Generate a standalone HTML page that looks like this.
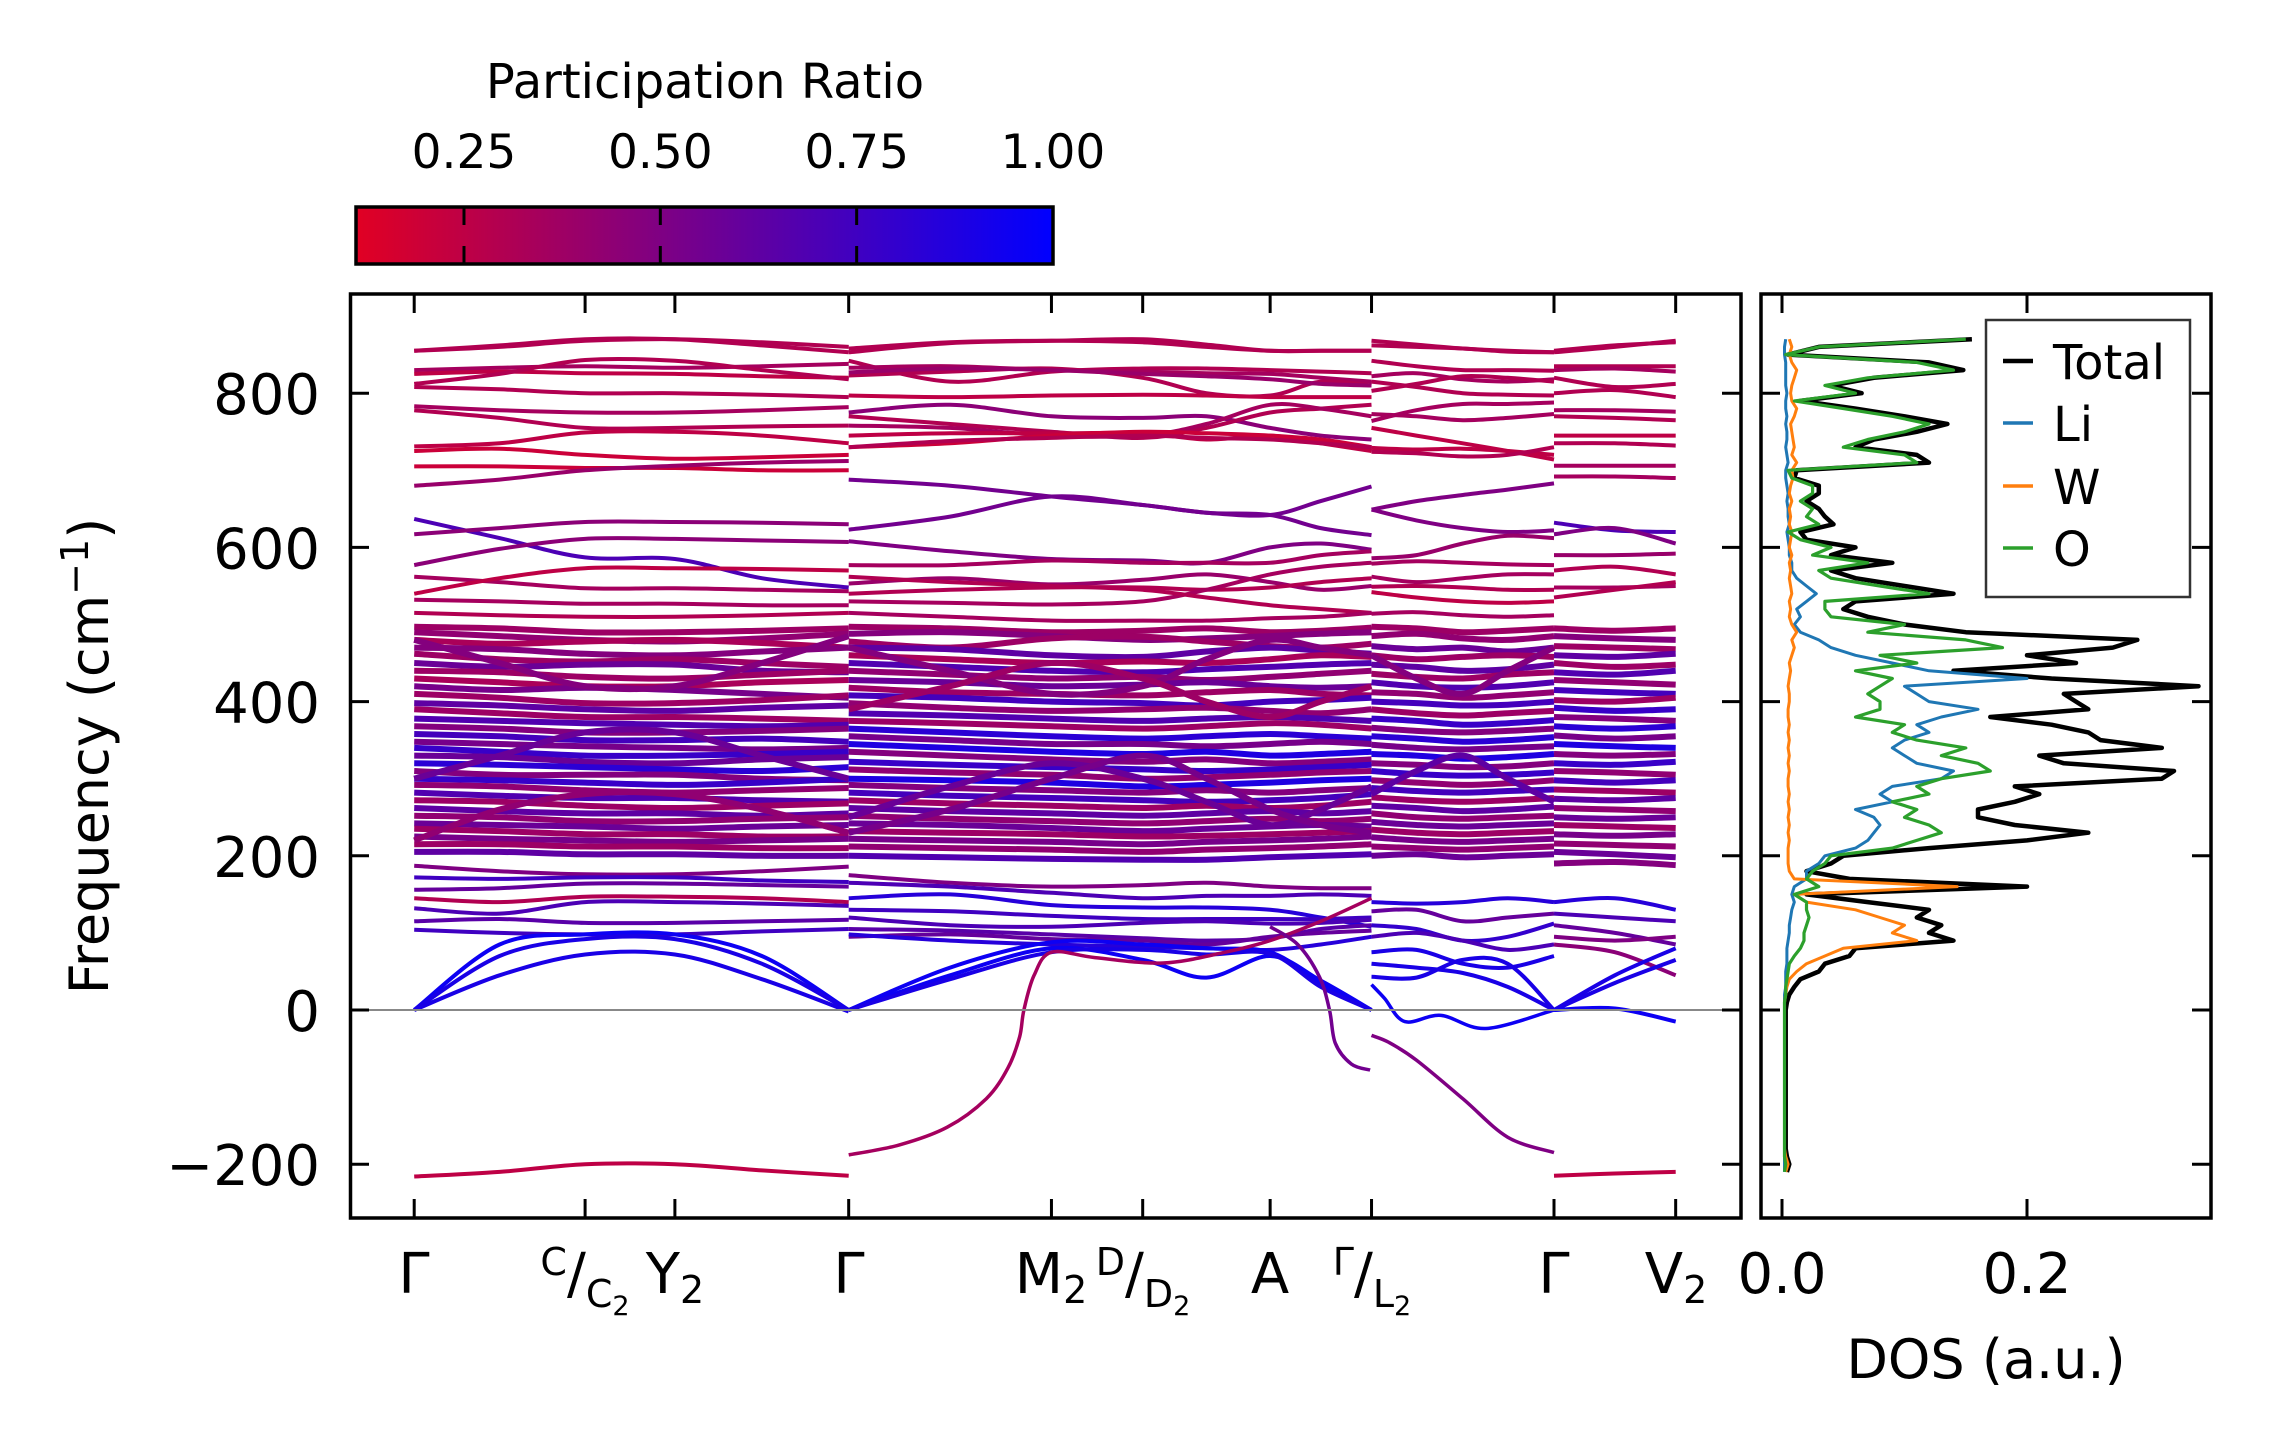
<!DOCTYPE html>
<html><head><meta charset="utf-8"><title>Phonon band structure and DOS</title>
<style>
html,body{margin:0;padding:0;background:#fff;}
svg{display:block;font-family:"DejaVu Sans","Liberation Sans",sans-serif;}
</style></head>
<body>
<svg id="fig" width="2271" height="1455" viewBox="0 0 2271 1455" xmlns="http://www.w3.org/2000/svg">
<defs>
<linearGradient id="cmap" x1="0" x2="1" y1="0" y2="0">
<stop offset="0" stop-color="rgb(225,0,35)"/><stop offset="1" stop-color="rgb(0,0,255)"/>
</linearGradient>
<clipPath id="mainClip"><rect x="352" y="296" width="1387" height="920"/></clipPath>
<clipPath id="dosClip"><rect x="1763" y="296" width="1447" height="920"/></clipPath>
</defs>
<rect x="0" y="0" width="2271" height="1455" fill="#fff"/>

<g>
<text x="705" y="98" font-size="48" text-anchor="middle">Participation Ratio</text>
<rect x="356" y="207" width="697" height="57" fill="url(#cmap)" stroke="#000" stroke-width="3.5"/>
<g id="cbTicks"></g>
</g>

<g id="bands" clip-path="url(#mainClip)"></g>
<line x1="352" x2="1739" y1="1010" y2="1010" stroke="#888" stroke-width="2"/>
<rect x="350.5" y="294" width="1390.5" height="924" fill="none" stroke="#000" stroke-width="3.5"/>
<g id="mainTicks"></g>

<g id="dos" clip-path="url(#dosClip)"></g>
<rect x="1761" y="294" width="450" height="924" fill="none" stroke="#000" stroke-width="3.5"/>
<g id="dosTicks"></g>

<g font-size="56" text-anchor="middle">
<text x="414" y="1293">Γ</text>
<text x="585" y="1293"><tspan font-size="38" dy="-18">C</tspan><tspan dy="18">/</tspan><tspan font-size="38" dy="14">C</tspan><tspan font-size="27" dy="8">2</tspan></text>
<text x="675" y="1293">Y<tspan font-size="38" dy="10">2</tspan></text>
<text x="849" y="1293">Γ</text>
<text x="1051" y="1293">M<tspan font-size="38" dy="10">2</tspan></text>
<text x="1143" y="1293"><tspan font-size="38" dy="-18">D</tspan><tspan dy="18">/</tspan><tspan font-size="38" dy="14">D</tspan><tspan font-size="27" dy="8">2</tspan></text>
<text x="1270" y="1293">A</text>
<text x="1372" y="1293"><tspan font-size="38" dy="-18">Γ</tspan><tspan dy="18">/</tspan><tspan font-size="38" dy="14">L</tspan><tspan font-size="27" dy="8">2</tspan></text>
<text x="1554" y="1293">Γ</text>
<text x="1676" y="1293">V<tspan font-size="38" dy="10">2</tspan></text>
</g>
<text transform="translate(108,756) rotate(-90)" font-size="54" text-anchor="middle">Frequency (cm<tspan font-size="38" dy="-20">−1</tspan><tspan dy="20">)</tspan></text>
<text x="1986" y="1378" font-size="54" text-anchor="middle">DOS (a.u.)</text>

<g>
<rect x="1986" y="320" width="204" height="277" fill="#fff" fill-opacity="0.85" stroke="#333" stroke-width="2.5"/>
<line x1="2003" x2="2033" y1="361" y2="361" stroke="#000" stroke-width="4.5"/>
<text x="2053" y="379" font-size="48">Total</text>
<line x1="2003" x2="2033" y1="423" y2="423" stroke="#1f77b4" stroke-width="3.5"/>
<text x="2053" y="441" font-size="48">Li</text>
<line x1="2003" x2="2033" y1="486" y2="486" stroke="#ff7f0e" stroke-width="3.5"/>
<text x="2053" y="504" font-size="48">W</text>
<line x1="2003" x2="2033" y1="548" y2="548" stroke="#2ca02c" stroke-width="3.5"/>
<text x="2053" y="566" font-size="48">O</text>
</g>
</svg>

<script>
const yTicks = [-200, 0, 200, 400, 600, 800];
const yTickLabels = ["−200", "0", "200", "400", "600", "800"];
const kTicks = [0, 118, 180, 300, 440, 503, 591, 661, 787, 871];
const cbTicks = [0.25, 0.5, 0.75, 1.0];
const cbTickLabels = ["0.25", "0.50", "0.75", "1.00"];
const dosTicks = [0.0, 0.2];
const dosTickLabels = ["0.0", "0.2"];

const segAKnots = [0, 59, 118, 180, 240, 300];
const segABands = [
[.3,855,862,870,870,862,853],[.3,855,860,868,870,866,860],[.35,830,833,835,833,835,838],[.25,825,828,826,825,822,820],
[.3,812,825,843,842,830,818],[.3,808,805,800,800,798,795],[.35,783,778,775,775,778,782],[.3,778,768,755,755,757,758],
[.25,731,735,749,750,745,735],[.2,725,728,720,715,717,720],[.2,705,705,703,703,700,700],[.4,680,688,700,706,710,712],
[.7,637,612,587,585,560,548],[.45,617,625,633,633,632,630],[.45,577,598,611,611,609,607],[.35,562,555,547,547,545,543],
[.25,540,560,573,573,572,570],[.35,532,530,527,527,525,525],[.3,515,512,510,510,512,515],
[.5,187,180,176,176,180,186],[.75,172,170,172,172,168,166],[.6,156,158,164,164,162,160],[.3,145,140,147,147,145,140],
[.7,132,125,140,140,138,135],[.65,115,118,113,113,115,117],[.75,104,100,98,98,102,105],
[.95,0,85,98,98,70,0],[.9,0,70,92,92,60,0],[.9,0,45,72,72,40,-2],
[.25,-216,-210,-200,-200,-208,-215]
];
const segADense = [
[.3,497,495,490,490,492,495],[.35,490,485,480,478,482,488],[.25,480,475,478,480,476,470],[.4,470,468,462,460,465,470],
[.3,462,455,452,455,450,445],[.5,450,445,448,448,440,438],[.3,440,438,432,430,435,440],[.25,430,425,420,420,425,428],
[.45,420,415,418,415,410,405],[.3,410,405,398,398,402,408],[.55,398,395,390,388,392,395],[.3,390,385,380,380,378,375],
[.6,378,375,372,370,368,370],[.4,368,365,360,360,362,365],[.65,358,355,350,350,352,348],[.45,348,345,342,340,338,340],
[.7,340,335,330,330,332,335],[.5,330,328,322,320,325,328],[.75,320,318,315,312,310,315],[.4,310,305,305,305,300,298],
[.7,300,298,295,292,295,300],[.35,292,290,285,282,285,288],[.6,282,278,275,275,272,270],[.3,272,270,265,262,265,268],
[.55,262,258,255,255,252,255],[.35,252,250,245,245,248,250],[.5,242,240,238,235,238,240],[.3,235,232,228,228,225,225],
[.45,225,222,220,218,220,222],[.3,215,215,212,212,210,210],[.55,205,205,202,202,200,200],
[.4,480,450,420,420,450,485],[.5,300,330,360,360,330,300],[.35,220,260,280,280,260,230]
];
const segBKnots = [300, 370, 440, 503, 547, 591, 626, 661];
const segBBands = [
[.3,853,865,868,870,863,855,855,855],[.3,858,866,868,866,860,855,855,855],[.3,842,815,828,832,832,830,828,826],
[.35,833,835,830,828,826,825,820,815],[.3,823,828,832,820,800,797,815,810],[.4,827,832,830,825,822,818,812,810],
[.25,797,795,797,798,797,795,795,795],[.45,775,785,770,768,770,755,745,740],[.3,770,760,750,742,755,775,780,785],
[.35,758,755,745,745,760,785,780,770],[.25,745,748,748,748,740,745,735,725],[.2,730,735,745,750,748,745,740,730],
[.3,730,738,742,745,742,740,735,730],[.55,688,680,666,655,645,642,660,679],[.55,623,640,666,655,645,642,625,616],
[.5,608,595,585,583,580,600,605,597],[.35,577,577,583,580,580,580,590,595],[.4,553,560,552,558,565,555,545,550],
[.3,540,545,548,548,545,548,555,560],[.35,530,528,526,530,545,565,575,580],[.3,562,555,550,545,535,525,520,515],
[.35,515,510,505,505,505,508,510,515],
[.5,175,165,160,162,165,160,158,158],[.7,165,160,152,145,148,148,150,148],[.85,145,150,136,133,133,130,120,108],
[.75,130,128,122,118,118,118,118,120],[.7,120,110,108,113,115,112,113,117],[.65,105,103,98,93,90,93,105,110],
[.6,95,98,92,90,85,95,100,103],[.85,98,90,85,82,80,78,85,95],
[.95,0,55,88,85,80,75,35,0],[.95,0,45,80,65,42,70,38,0],[.9,0,40,75,78,72,73,30,0]
];
const segBDense = [
[.3,497,495,490,492,495,490,492,496],[.4,488,490,485,480,482,485,488,490],[.3,478,470,482,484,478,472,470,475],
[.55,470,468,460,458,465,470,466,462],[.25,460,455,450,452,450,455,460,458],[.6,450,445,440,438,442,445,448,450],
[.35,440,435,430,432,428,432,436,440],[.5,428,425,420,422,425,420,418,420],[.3,418,412,410,408,412,415,410,408],
[.65,408,405,400,398,395,400,402,405],[.35,398,392,388,390,392,388,385,390],[.6,385,382,378,375,378,380,378,375],
[.3,375,372,368,365,368,372,370,365],[.75,365,360,355,352,355,358,355,352],[.45,355,350,345,345,342,345,348,345],
[.8,345,340,335,332,335,330,332,335],[.4,335,330,325,322,325,320,322,325],[.7,322,318,315,312,310,312,315,318],
[.35,312,308,305,300,302,305,308,310],[.8,300,298,295,290,292,295,298,300],[.4,292,288,285,282,285,282,285,288],
[.65,282,278,275,272,270,272,275,280],[.3,272,268,265,262,265,262,265,270],[.55,262,258,255,252,255,258,255,258],
[.35,252,248,245,242,245,248,245,248],[.5,242,240,236,232,235,238,240,238],[.3,232,230,228,225,226,228,230,232],
[.45,222,220,218,215,218,220,222,225],[.35,212,210,208,205,208,210,212,215],[.6,200,198,196,195,195,198,200,202],
[.4,470,440,410,420,455,480,470,460],[.5,250,290,320,300,270,240,260,290],[.45,230,260,300,330,300,260,240,230],
[.3,390,420,450,430,400,380,400,420]
];
const segCKnots = [661, 692, 724, 755, 787];
const segCBands = [
[.3,868,863,858,855,853],[.3,862,860,858,854,853],[.3,842,835,830,830,829],[.35,822,826,818,815,818],
[.3,803,812,822,820,815],[.3,815,808,800,798,797],[.35,764,778,786,786,788],[.35,773,770,765,768,773],
[.25,755,745,735,725,714],[.25,729,727,728,725,720],[.3,724,722,718,720,730],
[.5,649,660,668,675,683],[.5,649,635,625,620,622],[.4,586,590,605,615,612],[.35,579,582,580,578,577],
[.35,562,555,560,565,565],[.3,549,550,548,545,545],[.25,542,535,530,528,530],[.35,514,516,512,510,512],
[.85,140,138,140,145,140],[.6,128,130,115,120,125],[.8,110,105,90,95,112],[.7,95,100,90,78,85],
[.9,75,78,60,55,70],[.9,60,55,48,30,0],[.9,43,42,65,60,0]
];
const segCDense = [
[.3,497,495,490,492,495],[.35,485,488,482,480,485],[.5,472,468,470,465,470],[.3,460,455,458,460,458],
[.55,448,445,440,442,448],[.3,436,432,430,435,438],[.6,425,420,418,420,425],[.35,412,410,405,408,412],
[.65,400,398,395,396,400],[.3,390,385,382,385,388],[.7,378,375,370,372,376],[.4,366,362,360,362,365],
[.75,355,352,348,350,354],[.45,344,340,338,340,342],[.8,332,330,326,328,332],[.4,320,318,315,316,320],
[.7,310,306,304,305,308],[.35,298,295,292,294,298],[.65,288,284,282,284,286],[.3,276,272,270,272,275],
[.55,265,262,258,260,264],[.35,255,250,248,250,252],[.5,244,240,238,240,242],[.3,234,230,228,230,232],
[.45,224,220,218,220,222],[.35,212,210,208,210,212],[.5,200,202,198,200,202],[.4,460,430,410,440,470],
[.55,280,310,330,300,270]
];
const segDKnots = [787, 829, 871];
const segDBands = [
[.3,853,860,868],[.3,855,862,866],[.3,835,835,835],[.35,830,832,828],[.3,820,808,812],[.3,800,804,795],
[.35,778,778,776],[.3,770,768,765],[.25,745,745,745],[.3,735,735,732],[.35,706,706,706],[.35,692,692,690],
[.7,632,622,620],[.5,617,625,605],[.4,590,590,592],[.3,570,575,565],[.35,548,548,550],[.3,535,545,555],
[.85,140,145,130],[.7,125,120,115],[.6,110,100,85],[.5,95,90,95],[.45,85,75,45],
[.9,0,45,80],[.9,0,35,65],[.95,0,2,-15],
[.25,-215,-212,-210]
];
const segDDense = [
[.3,495,492,495],[.4,485,482,480],[.3,472,470,468],[.55,460,458,462],[.3,450,445,448],[.6,438,435,440],
[.35,428,425,422],[.65,415,412,410],[.3,402,400,405],[.7,392,388,390],[.4,380,378,375],[.75,368,365,368],
[.45,356,352,355],[.8,345,342,340],[.4,332,330,332],[.7,320,318,322],[.35,310,308,305],[.65,298,295,298],
[.3,286,284,282],[.55,274,272,275],[.35,262,260,258],[.5,250,248,250],[.3,240,238,236],[.45,228,226,228],
[.35,216,214,212],[.5,205,202,198],[.4,190,192,188]
];
const specialK = [
[300,335,368,395,410,418,421,428,440,470,517,560,591,626,661],
[591,610,625,632,636,647,660],
[661,673,692,724,755,787],
[661,670,684,709,740,787]
];
const specialF = [
[-188,-175,-152,-115,-75,-35,0,45,75,68,61,75,90,115,145],
[108,85,43,0,-43,-70,-78],
[-33,-42,-65,-115,-165,-185],
[33,15,-15,-7,-24,0]
];
const specialPR = [0.35, 0.55, 0.5, 0.95];

const dosFreq = [];
for (let f = -210; f <= 870; f += 10) dosFreq.push(f);
const dosTotal = [.004,.006,.004,.003,.003,.003,.003,.003,.003,.003,.003,.003,.003,.003,.003,.003,.003,.003,.003,.003,.003,
.003,.004,.006,.01,.015,.03,.035,.055,.06,.14,.12,.13,.11,.12,.07,.02,.2,.055,.02,.04,.05,.12,.2,.25,.19,.16,.16,.19,.21,.19,
.31,.32,.23,.21,.31,.26,.25,.22,.17,.25,.24,.23,.34,.22,.14,.24,.20,.27,.29,.15,.10,.07,.05,.06,.14,.1,.06,.04,.09,.04,
.06,.02,.015,.042,.035,.03,.02,.03,.03,.01,.012,.12,.11,.06,.075,.11,.135,.10,.06,.015,.065,.04,.075,.148,.12,.005,.03,.155];
const dosO = [.002,.003,.002,.002,.002,.002,.002,.002,.002,.002,.002,.002,.002,.002,.002,.002,.002,.002,.002,.002,.002,
.002,.002,.003,.003,.004,.005,.006,.01,.015,.018,.018,.02,.022,.02,.02,.01,.03,.02,.025,.035,.04,.09,.11,.13,.12,.10,.11,.09,.12,.11,
.13,.17,.16,.13,.15,.11,.09,.10,.06,.08,.08,.07,.08,.09,.06,.11,.08,.18,.15,.07,.10,.04,.035,.035,.12,.08,.04,.03,.07,.025,
.04,.015,.005,.03,.02,.025,.015,.025,.025,.008,.005,.11,.10,.05,.07,.10,.12,.09,.05,.01,.06,.035,.07,.14,.11,.003,.03,.15];
const dosLi = [.002,.002,.002,.002,.002,.002,.002,.002,.002,.002,.002,.002,.002,.002,.002,.002,.002,.002,.002,.002,.002,
.002,.002,.002,.003,.003,.003,.004,.004,.004,.005,.006,.006,.007,.008,.01,.008,.01,.02,.02,.03,.035,.06,.07,.075,.08,.075,.06,.09,.08,.09,
.13,.14,.11,.1,.09,.1,.12,.11,.13,.16,.12,.11,.1,.2,.12,.09,.06,.04,.03,.015,.01,.015,.012,.02,.028,.02,.012,.008,.008,.006,
.006,.005,.004,.006,.005,.005,.004,.005,.004,.003,.003,.005,.004,.003,.004,.004,.003,.004,.003,.003,.004,.003,.003,.003,.003,.002,.002,.003];
const dosW = [.003,.005,.003,.002,.002,.002,.002,.002,.002,.002,.002,.002,.002,.002,.002,.002,.002,.002,.002,.002,.002,
.002,.002,.003,.004,.006,.012,.02,.035,.05,.11,.09,.10,.08,.06,.02,.01,.143,.01,.006,.005,.005,.005,.006,.005,.006,.005,.006,.005,.006,.005,
.005,.006,.005,.006,.005,.006,.005,.006,.005,.005,.006,.006,.005,.006,.007,.006,.008,.01,.008,.012,.008,.006,.007,.006,.008,.007,.006,.007,.006,.008,
.006,.007,.008,.006,.007,.006,.008,.006,.007,.009,.008,.012,.008,.01,.009,.008,.007,.01,.012,.008,.007,.008,.01,.012,.008,.006,.008,.006];

const NS = "http://www.w3.org/2000/svg";
function xK(k) { return 414.2 + k * 1.4483; }
function yF(f) { return 1010 - f * 0.771; }
function xD(v) { return 1782 + v * 1225; }
function xCB(p) { return 356 + (p - 0.1125) / (1 - 0.1125) * 697; }
function prColor(p) {
  let t = (p - 0.1125) / (1 - 0.1125); t = Math.max(0, Math.min(1, t));
  return "rgb(" + Math.round(225 * (1 - t)) + ",0," + Math.round(35 + 220 * t) + ")";
}
function smoothPath(pts) {
  let d = "M" + pts[0][0].toFixed(1) + "," + pts[0][1].toFixed(1);
  for (let i = 0; i < pts.length - 1; i++) {
    const p0 = pts[i - 1] || pts[i], p1 = pts[i], p2 = pts[i + 1], p3 = pts[i + 2] || p2;
    const c1x = p1[0] + (p2[0] - p0[0]) / 6, c1y = p1[1] + (p2[1] - p0[1]) / 6;
    const c2x = p2[0] - (p3[0] - p1[0]) / 6, c2y = p2[1] - (p3[1] - p1[1]) / 6;
    d += "C" + c1x.toFixed(1) + "," + c1y.toFixed(1) + " " + c2x.toFixed(1) + "," + c2y.toFixed(1) + " " + p2[0].toFixed(1) + "," + p2[1].toFixed(1);
  }
  return d;
}
function linePath(pts) { return pts.map((p, i) => (i ? "L" : "M") + p[0].toFixed(1) + "," + p[1].toFixed(1)).join(""); }
function mk(tag, attrs, parent) {
  const el = document.createElementNS(NS, tag);
  for (const a in attrs) el.setAttribute(a, attrs[a]);
  parent.appendChild(el); return el;
}

const bandsG = document.getElementById("bands");
function drawSet(knots, set, width, nameBase, colorShift) {
  set.forEach((b, i) => {
    const pts = knots.map((k, j) => [xK(k), yF(b[j + 1])]);
    const p = mk("path", { d: smoothPath(pts), fill: "none", stroke: prColor(b[0] + colorShift), "stroke-width": width }, bandsG);
    
    
  });
}
drawSet(segAKnots, segADense, 6, "band-seg-a-dense", 0.08);
drawSet(segBKnots, segBDense, 6, "band-seg-b-dense", 0.08);
drawSet(segCKnots, segCDense, 6, "band-seg-c-dense", 0.08);
drawSet(segDKnots, segDDense, 6, "band-seg-d-dense", 0.08);
drawSet(segAKnots, segABands, 4, "band-seg-a", 0);
drawSet(segBKnots, segBBands, 4, "band-seg-b", 0);
drawSet(segCKnots, segCBands, 4, "band-seg-c", 0);
drawSet(segDKnots, segDBands, 4, "band-seg-d", 0);
specialK.forEach((ks, i) => {
  const pts = ks.map((k, j) => [xK(k), yF(specialF[i][j])]);
  const p = mk("path", { d: smoothPath(pts), fill: "none", stroke: prColor(specialPR[i]), "stroke-width": 3.5 }, bandsG);
  
  
});

const mt = document.getElementById("mainTicks");
yTicks.forEach((f, i) => {
  const y = yF(f);
  let t = mk("line", { x1: 350.5, x2: 369, y1: y, y2: y, stroke: "#000", "stroke-width": 3 }, mt);
   
  t = mk("line", { x1: 1722, x2: 1741, y1: y, y2: y, stroke: "#000", "stroke-width": 3 }, mt);
   
  const lb = mk("text", { x: 320, y: y + 21, "font-size": 56, "text-anchor": "end" }, mt);
  lb.textContent = yTickLabels[i];
   
});
kTicks.forEach(k => {
  const x = xK(k);
  let t = mk("line", { x1: x, x2: x, y1: 1218, y2: 1199, stroke: "#000", "stroke-width": 3 }, mt);
   
  t = mk("line", { x1: x, x2: x, y1: 294, y2: 313, stroke: "#000", "stroke-width": 3 }, mt);
   
});

const cbg = document.getElementById("cbTicks");
cbTicks.forEach((p, i) => {
  const x = xCB(p);
  if (p < 1) {
    let t = mk("line", { x1: x, x2: x, y1: 207, y2: 225, stroke: "#000", "stroke-width": 3 }, cbg);
     
    t = mk("line", { x1: x, x2: x, y1: 246, y2: 264, stroke: "#000", "stroke-width": 3 }, cbg);
     
  }
  const lb = mk("text", { x: x, y: 168, "font-size": 47, "text-anchor": "middle" }, cbg);
  lb.textContent = cbTickLabels[i];
   
});

const dosG = document.getElementById("dos");
function drawDos(vals, color, w, name) {
  const pts = dosFreq.map((f, i) => [xD(vals[i]), yF(f)]);
  const p = mk("path", { d: linePath(pts), fill: "none", stroke: color, "stroke-width": w, "stroke-linejoin": "round" }, dosG);
  
  
}
drawDos(dosTotal, "#000", 4.5, "dos-total-line");
drawDos(dosLi, "#1f77b4", 3, "dos-li-line");
drawDos(dosW, "#ff7f0e", 3, "dos-w-line");
drawDos(dosO, "#2ca02c", 3.2, "dos-o-line");

const dt = document.getElementById("dosTicks");
yTicks.forEach(f => {
  const y = yF(f);
  let t = mk("line", { x1: 1761, x2: 1780, y1: y, y2: y, stroke: "#000", "stroke-width": 3 }, dt);
   
  t = mk("line", { x1: 2192, x2: 2211, y1: y, y2: y, stroke: "#000", "stroke-width": 3 }, dt);
   
});
dosTicks.forEach((v, i) => {
  const x = xD(v);
  let t = mk("line", { x1: x, x2: x, y1: 1218, y2: 1199, stroke: "#000", "stroke-width": 3 }, dt);
   
  t = mk("line", { x1: x, x2: x, y1: 294, y2: 313, stroke: "#000", "stroke-width": 3 }, dt);
   
  const lb = mk("text", { x: x, y: 1293, "font-size": 56, "text-anchor": "middle" }, dt);
  lb.textContent = dosTickLabels[i];
   
});
</script>
</body></html>
